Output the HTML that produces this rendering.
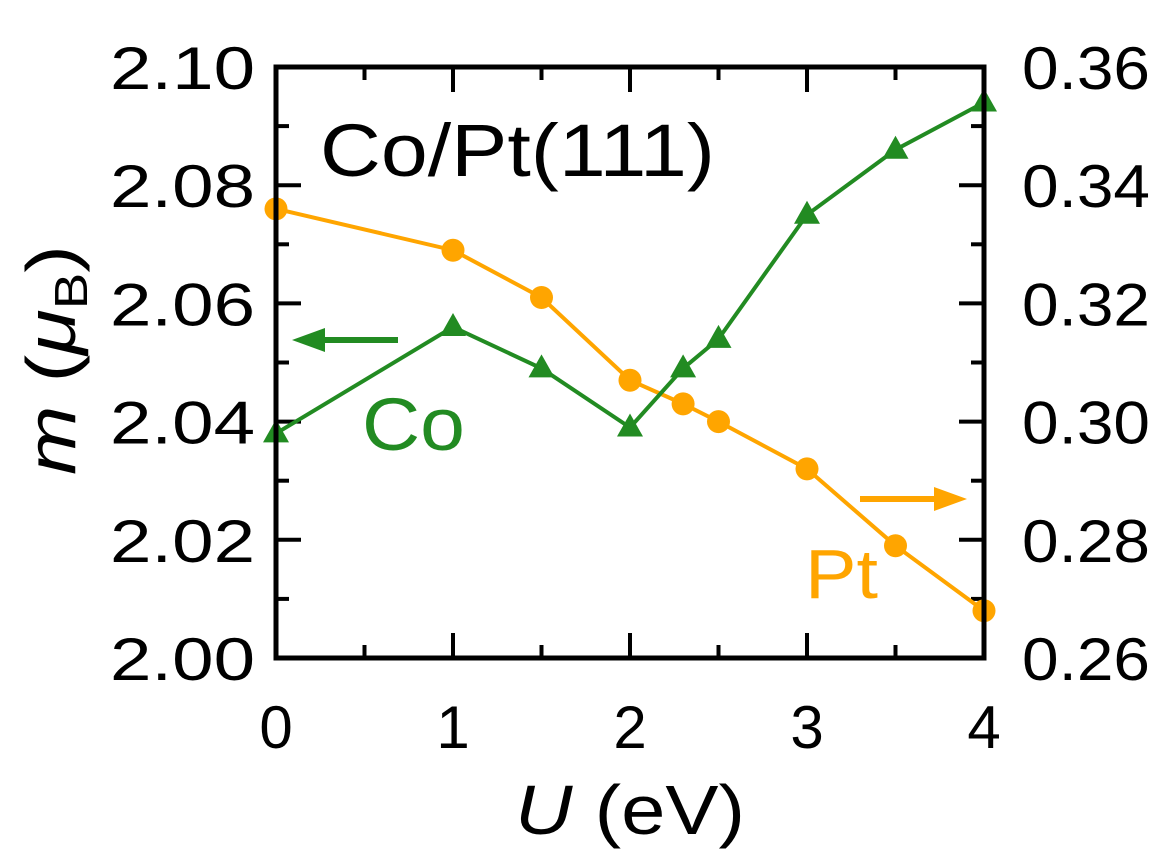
<!DOCTYPE html>
<html><head><meta charset="utf-8"><style>
body{margin:0;background:#fff}
svg text{font-family:"Liberation Sans",sans-serif}
</style></head><body>
<svg width="1167" height="863">
<g id="ticks"></g>
<g id="labels"></g>
<g id="series"></g>
<rect x="276" y="67" width="708" height="591" fill="none" stroke="#000" stroke-width="5"/>
<text x="320" y="176" font-size="74" textLength="395" lengthAdjust="spacingAndGlyphs">Co/Pt(111)</text>
<text x="362" y="450" font-size="74" textLength="103" lengthAdjust="spacingAndGlyphs" fill="#228B22">Co</text>
<text x="805" y="598" font-size="70" textLength="73" lengthAdjust="spacingAndGlyphs" fill="#FFA500">Pt</text>
<g><line x1="398" y1="340" x2="320" y2="340" stroke="#228B22" stroke-width="6"/><polygon points="292,340 325,328 325,352" fill="#228B22"/></g>
<g><line x1="860" y1="499" x2="935" y2="499" stroke="#FFA500" stroke-width="6"/><polygon points="967,499 934,487 934,511" fill="#FFA500"/></g>
<text x="515" y="834" font-size="70" textLength="230" lengthAdjust="spacingAndGlyphs"><tspan font-style="italic">U</tspan> (eV)</text>
<text transform="translate(75,475) rotate(-90)" font-size="70" textLength="230" lengthAdjust="spacingAndGlyphs"><tspan font-style="italic">m</tspan> (<tspan font-style="italic">μ</tspan><tspan font-size="46" dy="12">B</tspan><tspan dy="-12">)</tspan></text>
</svg>
<script>
const xs=[0,1,1.5,2,2.3,2.5,3,3.5,4];
const coVals=[2.038,2.056,2.049,2.039,2.049,2.054,2.075,2.086,2.094];
const ptVals=[0.336,0.329,0.321,0.307,0.303,0.300,0.292,0.279,0.268];
const xTicks=[0,1,2,3,4];
const yLeftTicks=["2.00","2.02","2.04","2.06","2.08","2.10"];
const yRightTicks=["0.26","0.28","0.30","0.32","0.34","0.36"];
const L=276,R=984,T=67,B=658,NS="http://www.w3.org/2000/svg";
const X=v=>L+(v/4)*(R-L), YL=v=>B-(v-2.0)/0.1*(B-T), YR=v=>B-(v-0.26)/0.1*(B-T);
function mk(tag,a,p){const e=document.createElementNS(NS,tag);for(const k in a)e.setAttribute(k,a[k]);p.appendChild(e);return e;}
const tg=document.getElementById('ticks'),lg=document.getElementById('labels'),sg=document.getElementById('series');
for(let v=0;v<=4.001;v+=0.5){const x=X(v),len=Number.isInteger(v)?25:13;
 const a=mk('line',{x1:x,y1:B,x2:x,y2:B-len,stroke:'#000','stroke-width':4},tg);
 const b=mk('line',{x1:x,y1:T,x2:x,y2:T+len,stroke:'#000','stroke-width':4},tg);}
for(let i=0;i<=10;i++){const y=B-i*(B-T)/10,len=i%2?13:25;
 const a=mk('line',{x1:L,y1:y,x2:L+len,y2:y,stroke:'#000','stroke-width':4},tg);
 const b=mk('line',{x1:R,y1:y,x2:R-len,y2:y,stroke:'#000','stroke-width':4},tg);}
xTicks.forEach(v=>{const t=mk('text',{x:X(v),y:748,'font-size':60,'text-anchor':'middle'},lg);t.textContent=v;});
yLeftTicks.forEach(s=>{const t=mk('text',{x:110,y:YL(+s)+22,'font-size':60,textLength:145,lengthAdjust:'spacingAndGlyphs'},lg);t.textContent=s;});
yRightTicks.forEach(s=>{const t=mk('text',{x:1022,y:YR(+s)+22,'font-size':60,textLength:128,lengthAdjust:'spacingAndGlyphs'},lg);t.textContent=s;});
const pl=mk('polyline',{points:xs.map((x,i)=>X(x)+','+YR(ptVals[i])).join(' '),fill:'none',stroke:'#FFA500','stroke-width':4},sg);

xs.forEach((x,i)=>{const c=mk('circle',{cx:X(x),cy:YR(ptVals[i]),r:11.5,fill:'#FFA500'},sg);});
const cl=mk('polyline',{points:xs.map((x,i)=>X(x)+','+YL(coVals[i])).join(' '),fill:'none',stroke:'#228B22','stroke-width':4},sg);

xs.forEach((x,i)=>{const cx=X(x),cy=YL(coVals[i]);const p=mk('polygon',{points:`${cx},${cy-14} ${cx-13},${cy+9} ${cx+13},${cy+9}`,fill:'#228B22'},sg);});
</script>
</body></html>
